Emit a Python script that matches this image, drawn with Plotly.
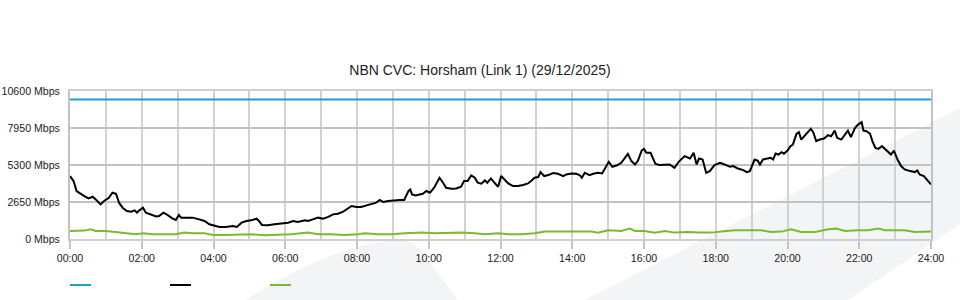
import plotly.graph_objects as go

# ---------------- data ----------------
title_text = "NBN CVC: Horsham (Link 1) (29/12/2025)"
y_tick_values = [0, 2650, 5300, 7950, 10600]
y_tick_labels = ["0 Mbps", "2650 Mbps", "5300 Mbps", "7950 Mbps", "10600 Mbps"]
x_tick_hours = [0, 2, 4, 6, 8, 10, 12, 14, 16, 18, 20, 22, 24]
x_tick_labels = ["00:00", "02:00", "04:00", "06:00", "08:00", "10:00", "12:00",
                 "14:00", "16:00", "18:00", "20:00", "22:00", "24:00"]

capacity_minutes = [0, 1440]
capacity_mbps = [10000, 10000]

down_minutes = [
    0, 6, 11, 17, 24, 31, 38, 43, 51, 57, 65, 71, 77, 82, 88, 95, 102, 108, 112, 116,
    122, 127, 135, 144, 149, 156, 163, 171, 177, 182, 186, 194, 205, 216, 225, 233, 241,
    250, 261, 272, 279, 283, 287, 295, 303, 312, 316, 321, 331, 342, 353, 365, 373, 381,
    393, 398, 406, 415, 423, 432, 440, 448, 457, 465, 471, 479, 487, 496, 504, 512, 518,
    524, 532, 543, 551, 559, 563, 566, 569, 572, 578, 585, 590, 596, 602, 609, 618, 624,
    629, 638, 646, 654, 659, 665, 671, 677, 682, 688, 694, 698, 704, 709, 716, 721, 727,
    733, 741, 749, 758, 766, 772, 777, 783, 787, 793, 800, 808, 816, 825, 830, 839, 847,
    853, 856, 861, 869, 875, 883, 890, 894, 901, 907, 914, 922, 928, 933, 939, 945, 950,
    956, 960, 964, 971, 975, 979, 986, 995, 1003, 1011, 1018, 1028, 1037, 1043, 1048,
    1052, 1058, 1064, 1070, 1078, 1087, 1095, 1104, 1109, 1117, 1126, 1132, 1137, 1140,
    1145, 1150, 1154, 1159, 1165, 1172, 1176, 1180, 1185, 1190, 1194, 1200, 1205, 1209,
    1215, 1219, 1223, 1229, 1234, 1239, 1243, 1248, 1254, 1261, 1268, 1273, 1279, 1283,
    1290, 1297, 1301, 1306, 1313, 1318, 1324, 1327, 1332, 1338, 1342, 1347, 1352, 1358,
    1363, 1369, 1373, 1378, 1384, 1390, 1396, 1405, 1413, 1417, 1421, 1428, 1435, 1440,
]
down_mbps = [
    4507, 4150, 3436, 3243, 3078, 2907, 3029, 2836, 2479, 2721, 2957, 3314, 3243, 2600,
    2243, 2007, 1957, 2050, 1886, 2050, 2243, 1886, 1764, 1621, 1650, 1886, 1721, 1479,
    1364, 1721, 1529, 1529, 1529, 1407, 1293, 1050, 936, 864, 864, 936, 864, 1007, 1171,
    1293, 1336, 1457, 1293, 1007, 979, 1050, 1121, 1171, 1293, 1221, 1336, 1293, 1407,
    1529, 1457, 1579, 1764, 1814, 1957, 2193, 2364, 2293, 2293, 2407, 2479, 2600, 2793,
    2650, 2721, 2793, 2793, 2793, 3193, 3436, 3550, 3193, 3121, 3193, 3243, 3436, 3314,
    3671, 4386, 4029, 3671, 3600, 3621, 3743, 4150, 4150, 4550, 4386, 4029, 3957, 4193,
    4029, 4336, 4079, 3743, 4507, 4264, 3979, 3793, 3793, 3864, 3979, 4193, 4386, 4436,
    4793, 4507, 4579, 4721, 4671, 4507, 4621, 4693, 4671, 4550, 4386, 4743, 4579, 4671,
    4743, 4693, 4979, 5529, 5171, 5264, 5457, 5814, 6100, 5579, 5336, 5621, 6336, 6457,
    6171, 6171, 5814, 5386, 5293, 5293, 5336, 5100, 5529, 5936, 5764, 6171, 5336, 5764,
    5693, 4743, 4864, 5293, 5457, 5336, 5171, 5221, 5050, 4936, 4793, 4864, 5221, 5693,
    5621, 5336, 5693, 5764, 5814, 5693, 6121, 6050, 6221, 6100, 6336, 6650, 6764, 7529,
    7650, 7121, 7407, 7721, 7886, 7650, 7007, 7121, 7193, 7436, 7364, 7764, 7243, 7121,
    7529, 7764, 7293, 7957, 8193, 8364, 7764, 7721, 7550, 7007, 6529, 6457, 6650, 6457,
    6221, 6050, 6336, 5693, 5221, 4979, 4864, 4793, 4907, 4621, 4507, 4193, 3907,
]

up_minutes = [
    0, 16, 24, 35, 43, 60, 77, 94, 110, 122, 138, 161, 177, 191, 205, 225, 239, 261, 283,
    303, 326, 348, 370, 398, 415, 437, 459, 482, 493, 515, 537, 560, 588, 610, 632, 655,
    677, 694, 716, 733, 755, 777, 794, 811, 833, 853, 872, 883, 900, 922, 936, 945, 961,
    978, 995, 1011, 1034, 1050, 1073, 1089, 1112, 1129, 1156, 1173, 1190, 1206, 1223,
    1246, 1268, 1282, 1296, 1318, 1335, 1352, 1363, 1379, 1396, 1413, 1430, 1440,
]
up_mbps = [
    579, 621, 600, 693, 579, 579, 507, 407, 336, 407, 336, 336, 336, 457, 407, 407, 293,
    293, 336, 336, 264, 293, 336, 457, 336, 336, 293, 336, 407, 336, 336, 407, 457, 407,
    457, 457, 407, 336, 407, 336, 336, 407, 529, 529, 507, 529, 529, 457, 621, 579, 743,
    579, 579, 457, 579, 457, 507, 457, 457, 529, 621, 621, 621, 507, 529, 693, 507, 507,
    693, 743, 579, 621, 621, 743, 621, 621, 621, 507, 507, 529,
]

series_colors = ["#1b9fdc", "#000000", "#79bb2c"]

# ---------------- figure ----------------
W, H = 960, 300
ML, MR, MT, MB = 70, 29, 91, 61
PW, PH = W - ML - MR, H - MT - MB


def px_to_paper(px, py):
    return (px - ML) / PW, (H - MB - py) / PH


def path_from_pixels(points):
    parts = []
    for cmd, pts in points:
        coords = " ".join("%.4f,%.4f" % px_to_paper(x, y) for x, y in pts)
        parts.append(cmd + " " + coords)
    return " ".join(parts) + " Z"


to_hours = lambda mins: [m / 60.0 for m in mins]

fig = go.Figure()
fig.add_trace(go.Scatter(x=to_hours(capacity_minutes), y=capacity_mbps, mode="lines",
                         line=dict(color=series_colors[0], width=2), showlegend=False))
fig.add_trace(go.Scatter(x=to_hours(up_minutes), y=up_mbps, mode="lines",
                         line=dict(color=series_colors[2], width=2), showlegend=False))
fig.add_trace(go.Scatter(x=to_hours(down_minutes), y=down_mbps, mode="lines",
                         line=dict(color=series_colors[1], width=2), showlegend=False))

shapes = []
# watermark (background swoosh)
wm = "#f3f4f6"
shapes.append(dict(type="path", xref="paper", yref="paper", layer="below",
                   fillcolor=wm, line=dict(width=0),
                   path=path_from_pixels([("M", [(245, 300)]),
                                          ("Q", [(330, 246), (395, 240)]),
                                          ("Q", [(412, 239), (422, 252)]),
                                          ("L", [(458, 300)])])))
shapes.append(dict(type="path", xref="paper", yref="paper", layer="below",
                   fillcolor=wm, line=dict(width=0),
                   path=path_from_pixels([("M", [(585, 300)]),
                                          ("L", [(960, 108)]),
                                          ("L", [(960, 224)]),
                                          ("L", [(848, 300)])])))
# legend swatches (no labels in the original)
for i, c in enumerate(series_colors):
    x0, y0 = px_to_paper(70 + 100 * i, 285)
    x1, _ = px_to_paper(91 + 100 * i, 285)
    shapes.append(dict(type="line", xref="paper", yref="paper", x0=x0, x1=x1, y0=y0, y1=y0,
                       line=dict(color=c, width=2)))

font_family = "Liberation Sans, Arial, sans-serif"
fig.update_layout(
    width=W, height=H,
    margin=dict(l=ML, r=MR, t=MT, b=MB, pad=0, autoexpand=False),
    paper_bgcolor="white", plot_bgcolor="rgba(0,0,0,0)",
    font=dict(family=font_family, size=10.6, color="#222222"),
    title=dict(text=title_text, x=0.5, xanchor="center", y=1 - 70 / H, yanchor="middle",
               font=dict(family=font_family, size=14, color="#222222")),
    shapes=shapes,
    showlegend=False,
)
fig.update_xaxes(range=[0, 24], tickmode="array", tickvals=x_tick_hours, ticktext=x_tick_labels,
                 showgrid=True, gridcolor="#d2d2d2", gridwidth=2,
                 minor=dict(dtick=1, showgrid=True, gridcolor="#d2d2d2", gridwidth=2),
                 ticks="outside", ticklen=8, tickwidth=2, tickcolor="#c4c4c4",
                 showline=True, mirror=True, linecolor="#cfcfcf", linewidth=2,
                 zeroline=False, automargin=False, tickfont=dict(size=10.6, color="#222222"))
fig.update_yaxes(range=[0, 10600], tickmode="array", tickvals=y_tick_values, ticktext=y_tick_labels,
                 showgrid=True, gridcolor="#c2c2c2", gridwidth=2,
                 ticks="outside", ticklen=6, tickcolor="rgba(0,0,0,0)",
                 showline=True, mirror=True, linecolor="#c2c2c2", linewidth=2,
                 zeroline=False, automargin=False, tickfont=dict(size=10.6, color="#222222"))

fig.write_html("out.html")
